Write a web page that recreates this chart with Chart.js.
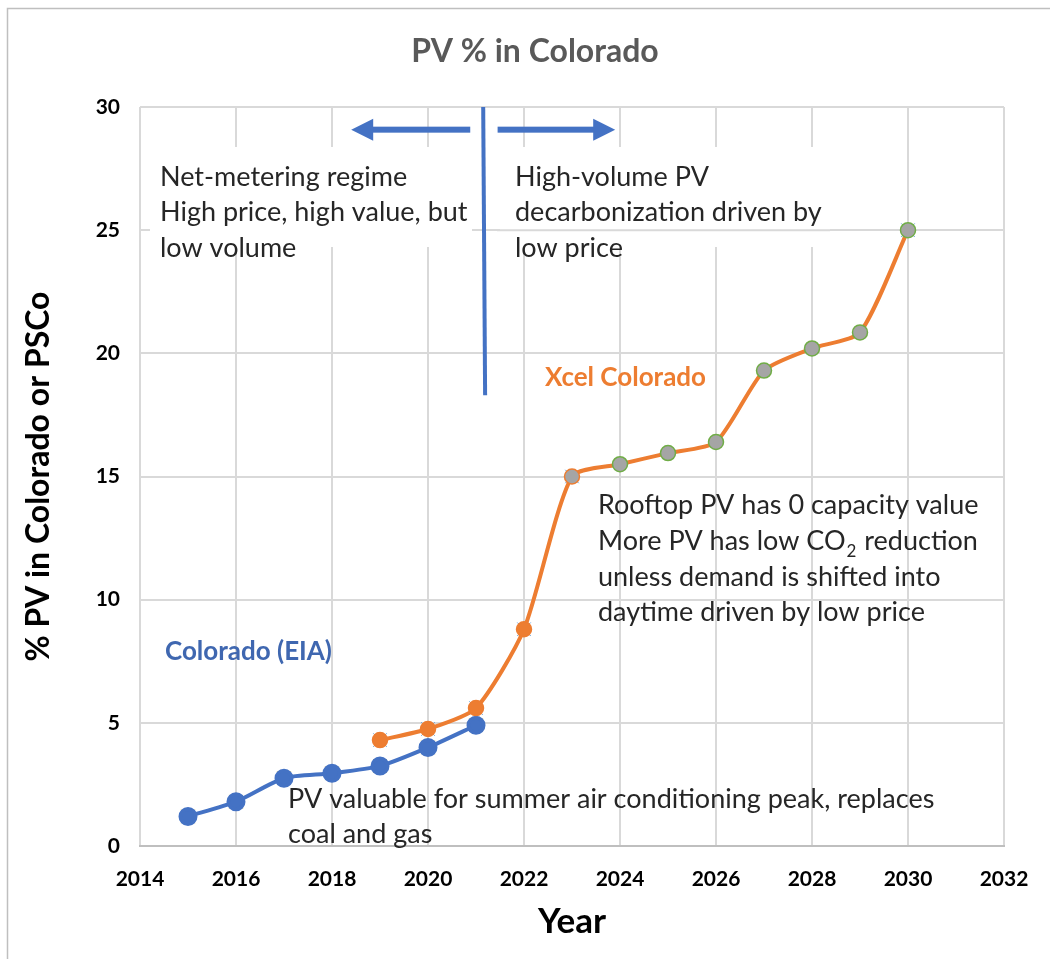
<!DOCTYPE html>
<html>
<head>
<meta charset="utf-8">
<script src="https://cdn.jsdelivr.net/npm/chart.js@4"></script>
<style>
  body { margin: 0; background: #fff; }
  canvas { display: block; }
</style>
</head>
<body>
<canvas id="chart" width="1050" height="959"></canvas>
<script>
// Colorado (EIA) share of PV, %
const eiaYears = [2015, 2016, 2017, 2018, 2019, 2020, 2021];
const eiaValues = [1.2, 1.8, 2.75, 2.95, 3.25, 4.0, 4.9];

// Xcel Colorado (PSCo) share of PV, %
const xcelYears = [2019, 2020, 2021, 2022, 2023, 2024, 2025, 2026, 2027, 2028, 2029, 2030];
const xcelValues = [4.3, 4.75, 5.6, 8.8, 15.0, 15.5, 15.95, 16.4, 19.3, 20.2, 20.85, 25.0];

// axis ticks
const xTicks = [2014, 2016, 2018, 2020, 2022, 2024, 2026, 2028, 2030, 2032];
const yTicks = [0, 5, 10, 15, 20, 25, 30];

const blue = "#4472C4";
const orange = "#ED7D31";
const gridGrey = "#D9D9D9";
const textFont = "Lato, 'Open Sans', sans-serif";

const toPoints = (xs, ys) => xs.map((x, i) => ({ x: x, y: ys[i] }));

// Xcel markers: orange until 2022, grey afterwards
const xcelFill = xcelYears.map(y => y <= 2022 ? orange : "#A5A5A5");
const xcelEdge = xcelYears.map(y => y <= 2023 ? orange : "#70AD47");

// text boxes, arrows, divider line
const notes = {
  id: "notes",
  beforeDatasetsDraw(chart) {
    const ctx = chart.ctx;
    const xs = chart.scales.x, ys = chart.scales.y;
    const px = v => xs.getPixelForValue(v);
    const py = v => ys.getPixelForValue(v);

    // white boxes behind the two top notes
    ctx.save();
    ctx.fillStyle = "#fff";
    ctx.fillRect(150, 147, 322, 100);
    ctx.fillRect(500, 147, 330, 100);
    // the 25 gridline still shows through the right box
    ctx.strokeStyle = gridGrey;
    ctx.lineWidth = 2;
    ctx.beginPath();
    ctx.moveTo(497, py(25));
    ctx.lineTo(830, py(25));
    ctx.stroke();
    ctx.restore();

    ctx.save();
    ctx.font = "27px " + textFont;
    ctx.fillStyle = "#262626";
    ctx.textBaseline = "middle";
    const lines = (arr, x, y0, step) => arr.forEach((t, i) => ctx.fillText(t, x, y0 + i * step));
    lines(["Net-metering regime", "High price, high value, but", "low volume"], 160, 177, 35.5);
    lines(["High-volume PV", "decarbonization driven by", "low price"], 515, 177, 35.5);
    lines(["PV valuable for summer air conditioning peak, replaces", "coal and gas"], 288, 799, 35);

    ctx.fillText("Rooftop PV has 0 capacity value", 598, 505);
    let t1 = "More PV has low CO";
    ctx.fillText(t1, 598, 541);
    let w = ctx.measureText(t1).width;
    ctx.font = "17px " + textFont;
    ctx.fillText("2", 598 + w + 1, 552);
    let w2 = ctx.measureText("2").width;
    ctx.font = "27px " + textFont;
    ctx.fillText(" reduction", 598 + w + w2 + 2, 541);
    ctx.fillText("unless demand is shifted into", 598, 577);
    ctx.fillText("daytime driven by low price", 598, 612);

    ctx.font = "bold 26px " + textFont;
    ctx.fillStyle = orange;
    ctx.fillText("Xcel Colorado", 545, 378);
    ctx.fillStyle = "#3F67B0";
    ctx.fillText("Colorado (EIA)", 165, 652);
    ctx.restore();

    // divider line
    ctx.save();
    ctx.strokeStyle = blue;
    ctx.lineWidth = 4;
    ctx.beginPath();
    ctx.moveTo(px(2021.15), py(30));
    ctx.lineTo(px(2021.19), py(18.3));
    ctx.stroke();

    // arrows
    const arrow = (x0, x1, yv) => {
      const y = py(yv), a = px(x0), b = px(x1);
      const dir = Math.sign(b - a);
      ctx.fillStyle = blue;
      ctx.fillRect(Math.min(a, b - dir * 20), y - 3, Math.abs(b - dir * 20 - a), 6);
      ctx.beginPath();
      ctx.moveTo(b, y);
      ctx.lineTo(b - dir * 22, y - 11);
      ctx.lineTo(b - dir * 22, y + 11);
      ctx.closePath();
      ctx.fill();
    };
    arrow(2020.88, 2018.4, 29.08);
    arrow(2021.45, 2023.9, 29.08);
    ctx.restore();
  },
  afterDraw(chart) {
    const ctx = chart.ctx;
    ctx.save();
    // chart title
    ctx.font = "bold 32px " + textFont;
    ctx.fillStyle = "#595959";
    ctx.textAlign = "center";
    ctx.textBaseline = "middle";
    ctx.fillText("PV % in Colorado", 535, 52);
    // outer chart frame (cropped at right and bottom)
    ctx.strokeStyle = "#BFBFBF";
    ctx.lineWidth = 1.5;
    ctx.beginPath();
    ctx.moveTo(7.5, 959);
    ctx.lineTo(7.5, 8.5);
    ctx.lineTo(1050, 8.5);
    ctx.stroke();
    ctx.restore();
  }
};

new Chart(document.getElementById("chart"), {
  type: "line",
  data: {
    datasets: [
      {
        label: "Colorado (EIA)",
        data: toPoints(eiaYears, eiaValues),
        borderColor: blue,
        backgroundColor: blue,
        borderWidth: 4,
        tension: 0.25,
        pointRadius: 7.5,
        pointBackgroundColor: blue,
        pointBorderColor: blue,
        order: 2
      },
      {
        label: "Xcel Colorado",
        data: toPoints(xcelYears, xcelValues),
        borderColor: orange,
        backgroundColor: orange,
        borderWidth: 4,
        tension: 0.22,
        pointRadius: 7.5,
        pointBorderWidth: 1.5,
        pointBackgroundColor: xcelFill,
        pointBorderColor: xcelEdge,
        order: 1
      },
      {
        label: "eia-x",
        data: toPoints(eiaYears, eiaValues),
        showLine: false,
        pointStyle: "crossRot",
        pointRadius: 9.5,
        pointBorderWidth: 1,
        pointBorderColor: "#FFC000",
        order: 3
      },
      {
        label: "xcel-x",
        data: toPoints(xcelYears, xcelValues),
        showLine: false,
        pointStyle: "crossRot",
        pointRadius: xcelYears.map(y => (y <= 2023 || y === 2030) ? 9.5 : 0),
        pointBorderWidth: 1,
        pointBorderColor: "#5B9BD5",
        order: 3
      }
    ]
  },
  options: {
    responsive: false,
    animation: false,
    layout: { padding: { top: 107, right: 46, left: 0, bottom: 0 } },
    plugins: {
      legend: { display: false },
      tooltip: { enabled: false }
    },
    scales: {
      x: {
        type: "linear",
        min: 2014,
        max: 2032,
        afterFit: s => { s.height = 113; },
        afterBuildTicks: s => { s.ticks = xTicks.map(v => ({ value: v })); },
        grid: { color: gridGrey, lineWidth: 2, drawTicks: false },
        border: { color: "#BFBFBF", width: 2 },
        ticks: {
          padding: 21,
          color: "#000",
          font: { family: textFont, size: 21, weight: "bold" },
          callback: v => String(v)
        },
        title: {
          display: true,
          text: "Year",
          color: "#000",
          font: { family: textFont, size: 35, weight: "bold" },
          padding: { top: 0, bottom: 16 }
        }
      },
      y: {
        min: 0,
        max: 30,
        afterFit: s => { s.width = 140; },
        afterBuildTicks: s => { s.ticks = yTicks.map(v => ({ value: v })); },
        grid: { color: gridGrey, lineWidth: 2, drawTicks: false },
        border: { display: false },
        ticks: {
          padding: 20,
          color: "#000",
          font: { family: textFont, size: 21, weight: "bold" }
        },
        title: {
          display: true,
          text: "% PV in Colorado or PSCo",
          color: "#000",
          font: { family: textFont, size: 32, weight: "bold" },
          padding: { top: 19, bottom: 0 }
        }
      }
    }
  },
  plugins: [notes]
});
</script>
</body>
</html>
